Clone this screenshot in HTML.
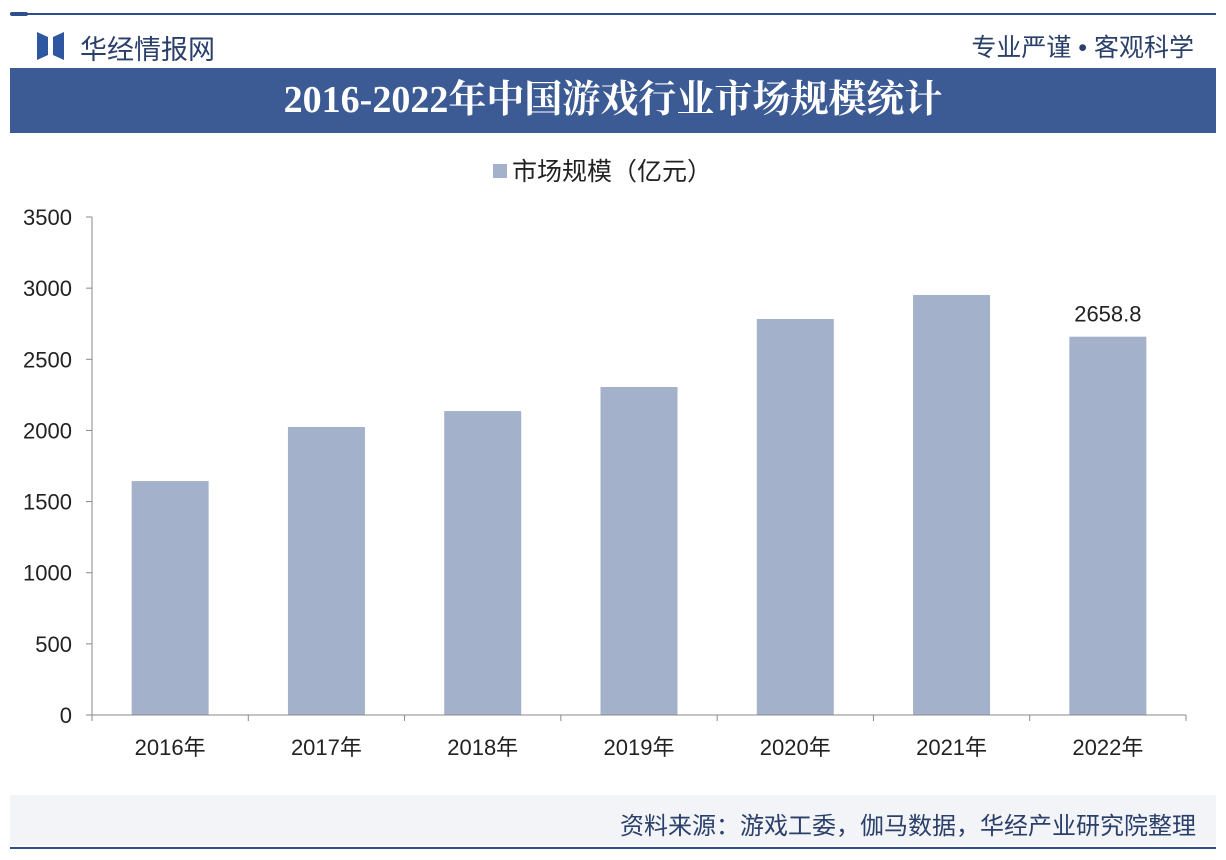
<!DOCTYPE html>
<html><head><meta charset="utf-8"><style>
body{margin:0;width:1226px;height:860px;background:#fff;font-family:"Liberation Sans","Noto Sans CJK SC",sans-serif;overflow:hidden;position:relative}
.abs{position:absolute}
</style></head><body>
<div class="abs" style="left:10px;top:13px;width:1206px;height:2px;background:#2f4f8a"></div>
<div class="abs" style="left:10px;top:12px;width:18px;height:4px;border-radius:2px;background:#2f4f8a"></div>
<svg class="abs" style="left:37px;top:32px" width="28" height="28"><polygon points="0,0 11,5 11,23 0,28" fill="#2f56a0"/><polygon points="27,0 16,5 16,23 27,28" fill="#2f56a0"/></svg>
<div class="abs" style="left:80px;top:28px;font-size:27px;color:#2a3f6a">华经情报网</div>
<div class="abs" style="right:32px;top:28px;font-size:25px;color:#2a3f6a">专业严谨 • 客观科学</div>
<div class="abs" style="left:10px;top:68px;width:1206px;height:65px;background:#3c5b95;color:#fff;font-family:'Liberation Serif','Noto Serif CJK SC',serif;font-weight:bold;font-size:38px;text-align:center;line-height:65px">2016-2022年中国游戏行业市场规模统计</div>
<div class="abs" style="left:10px;top:795px;width:1206px;height:50px;background:#f3f4f7"></div>
<div class="abs" style="right:30px;top:806px;font-size:24px;color:#2a3f6a">资料来源：游戏工委，伽马数据，华经产业研究院整理</div>
<div class="abs" style="left:10px;top:847px;width:1206px;height:2px;background:#2f4f8a"></div>
<svg class="abs" id="chart" style="left:0;top:0" width="1226" height="860"></svg>
<script>
const categories=["2016年","2017年","2018年","2019年","2020年","2021年","2022年"];
const values=[1644,2024,2136,2305,2783,2952,2658.8];
const yTicks=[0,500,1000,1500,2000,2500,3000,3500];
const svg=document.getElementById('chart');const NS='http://www.w3.org/2000/svg';
const x0=92,x1=1186,yBase=715,yTop=217,yMax=3500;
const y=v=>yBase-(v/yMax)*(yBase-yTop);
const bw=(x1-x0)/categories.length;
function mk(t,a,txt){const e=document.createElementNS(NS,t);for(const k in a)e.setAttribute(k,a[k]);if(txt!=null)e.textContent=txt;svg.appendChild(e);return e;}
let l=mk('rect',{x:493,y:164,width:14,height:14,fill:'#a3b1ca'});


l=mk('text',{x:512,y:180,'font-size':25,fill:'#222'},'市场规模（亿元）');


yTicks.forEach(t=>{const e=mk('text',{x:72,y:y(t)+8,'font-size':22,fill:'#222','text-anchor':'end'},t);


const m=mk('line',{x1:86,x2:92,y1:y(t),y2:y(t),stroke:'#888'});

});
categories.forEach((c,i)=>{const cx=x0+bw*(i+0.5);
const r=mk('rect',{x:cx-38.5,y:y(values[i]),width:77,height:yBase-y(values[i]),fill:'#a3b1ca'});


const t=mk('text',{x:cx,y:755,'font-size':22,fill:'#222','text-anchor':'middle'},c);

});
for(let i=0;i<=categories.length;i++){const tx=x0+bw*i;const e=mk('line',{x1:tx,x2:tx,y1:yBase,y2:yBase+6,stroke:'#888'});

}
let a=mk('line',{x1:x0,x2:x0,y1:yTop,y2:yBase,stroke:'#888'});


a=mk('line',{x1:x0,x2:x1,y1:yBase,y2:yBase,stroke:'#888'});


const li=values.length-1;
a=mk('text',{x:x0+bw*(li+0.5),y:y(values[li])-15,'font-size':22,fill:'#222','text-anchor':'middle'},values[li]);


</script>
</body></html>
